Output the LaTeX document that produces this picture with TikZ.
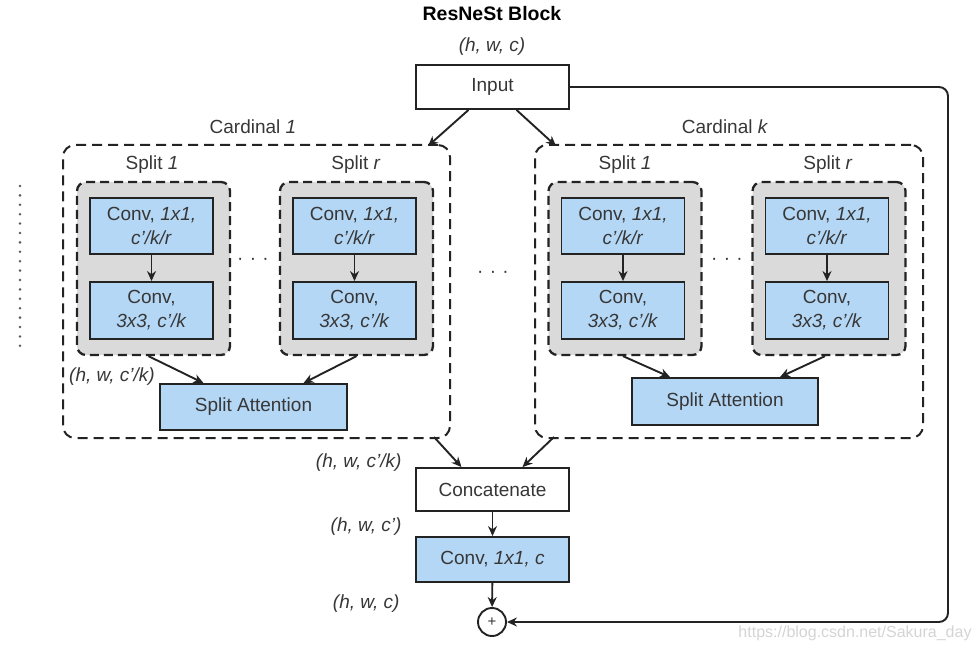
\documentclass[tikz,border=0pt]{standalone}
\usepackage{fontspec}
\setmainfont{Liberation Sans}
\definecolor{labelgray}{RGB}{55, 55, 55}
\definecolor{edgeblack}{RGB}{35, 35, 35}
\definecolor{convblue}{RGB}{180, 215, 245}
\definecolor{splitgray}{RGB}{218, 218, 218}
\definecolor{markgray}{RGB}{212, 212, 212}
\usetikzlibrary{arrows.meta, positioning}

\begin{document}
\begin{tikzpicture}[x=1pt, y=-1pt,
    font=\fontsize{19}{24}\selectfont, text=labelgray,
    plainbox/.style={draw=edgeblack, line width=1.9pt, fill=white, minimum width=153pt, minimum height=44pt, inner sep=0pt},
    convbox/.style={draw=edgeblack, line width=1.9pt, fill=convblue, minimum width=123pt, minimum height=56pt, inner sep=0pt, align=center},
    attbox/.style={convbox, minimum width=187pt, minimum height=46pt},
    splitbox/.style={draw=edgeblack, line width=2.3pt, dash pattern=on 9pt off 5pt, fill=splitgray, rounded corners=9pt, minimum width=153pt, minimum height=173pt},
    cardbox/.style={draw=edgeblack, line width=2pt, dash pattern=on 10pt off 6pt, rounded corners=12pt, minimum width=387pt, minimum height=293pt},
    flow/.style={draw=edgeblack, line width=1.9pt, -{Stealth[length=10pt, width=9pt]}},
    shape note/.style={font=\fontsize{19}{24}\selectfont\itshape},
  ]
  \useasboundingbox (0,0) rectangle (979,652);

  % title and input
  \node[font=\fontsize{19.5}{24}\selectfont\bfseries, text=black] (title) at (492,14) {ResNeSt Block};
  \node[shape note] (hwcin) at (492,47) {(h, w, c)};
  \node[plainbox] (input) at (492.5,87) {Input};

  % cardinal groups
  \node[cardbox] (card1) at (256.5,291.5) {};
  \node[cardbox, minimum width=388pt] (cardk) at (729,291.5) {};
  \node (card1lbl) at (253,127) {Cardinal \textit{1}};
  \node (cardklbl) at (725,127) {Cardinal \textit{k}};

  % splits of cardinal 1
  \node[splitbox] (s11) at (153.5,268.5) {};
  \node[splitbox] (s1r) at (356.5,268.5) {};
  \node (s11lbl) at (152,165) {Split \textit{1}};
  \node (s1rlbl) at (356,165) {Split \textit{r}};
  \node[convbox] (s11a) at (151.5,226) {Conv, \textit{1x1,}\\\textit{c'/k/r}};
  \node[convbox, minimum height=57pt] (s11b) at (151.5,310.5) {Conv,\\\textit{3x3, c'/k}};
  \node[convbox] (s1ra) at (354.5,226) {Conv, \textit{1x1,}\\\textit{c'/k/r}};
  \node[convbox, minimum height=57pt] (s1rb) at (354.5,310.5) {Conv,\\\textit{3x3, c'/k}};
  \node (dots1) at (253,261) {·\,\,·\,\,·};
  \node[attbox] (att1) at (253.5,407) {Split Attention};
  \node[shape note] (hwcsplit) at (112,377) {(h, w, c'/k)};

  % splits of cardinal k
  \node[splitbox] (sk1) at (625,268.5) {};
  \node[splitbox] (skr) at (829,268.5) {};
  \node (sk1lbl) at (625,165) {Split \textit{1}};
  \node (skrlbl) at (828,165) {Split \textit{r}};
  \node[convbox] (sk1a) at (623,226) {Conv, \textit{1x1,}\\\textit{c'/k/r}};
  \node[convbox, minimum height=57pt] (sk1b) at (623,310.5) {Conv,\\\textit{3x3, c'/k}};
  \node[convbox] (skra) at (827,226) {Conv, \textit{1x1,}\\\textit{c'/k/r}};
  \node[convbox, minimum height=57pt] (skrb) at (827,310.5) {Conv,\\\textit{3x3, c'/k}};
  \node (dotsk) at (727,261) {·\,\,·\,\,·};
  \node[attbox, minimum width=186pt, minimum height=47pt] (attk) at (725,401.5) {Split Attention};

  % between the cardinals
  \node (dotsmid) at (493,274) {·\,\,·\,\,·};
  \draw[edgeblack!75, line width=2.8pt, line cap=round, dash pattern=on 0pt off 9.4pt] (20,186) -- (20,355);

  % merge
  \node[plainbox, minimum height=43pt] (concat) at (492.5,489.5) {Concatenate};
  \node[convbox, minimum width=153pt, minimum height=45pt] (convout) at (492.5,559.5) {Conv, \textit{1x1, c}};
  \node[draw=edgeblack, line width=1.9pt, circle, minimum size=28pt, inner sep=0pt, font=\fontsize{15}{15}\selectfont] (plus) at (492,622) {+};
  \node[shape note, anchor=east] (hwccat) at (405,463) {(h, w, c'/k)};
  \node[shape note, anchor=east] (hwcmid) at (405,527) {(h, w, c')};
  \node[shape note, anchor=east] (hwcout) at (403,604) {(h, w, c)};
  \coordinate (skip) at (948,622);

  % connectors
  \draw[flow] ([xshift=-24pt]input.south) -- ([xshift=-23pt, yshift=-2pt]card1.north east);
  \draw[flow] ([xshift=24pt]input.south) -- ([xshift=22pt, yshift=-2pt]cardk.north west);
  \foreach \a/\b in {s11a/s11b, s1ra/s1rb, sk1a/sk1b, skra/skrb}
    \draw[flow] (\a.south) -- (\b.north);
  \draw[flow] ([xshift=-5pt]s11.south) -- ([xshift=-50pt]att1.north);
  \draw[flow] (s1r.south) -- ([xshift=50pt]att1.north);
  \draw[flow] ([xshift=-2pt]sk1.south) -- ([xshift=-55pt]attk.north);
  \draw[flow] ([xshift=-4pt]skr.south) -- ([xshift=55pt]attk.north);
  \draw[flow] ([xshift=-17pt, yshift=2pt]card1.south east) -- ([xshift=-31pt]concat.north);
  \draw[flow] ([xshift=20pt, yshift=2pt]cardk.south west) -- ([xshift=30pt]concat.north);
  \draw[flow] (concat) -- (convout);
  \draw[flow] (convout) -- (plus);
  \draw[flow, rounded corners=9pt] (input.east) -| (skip) -- (plus.east);

  % watermark
  \node[text=markgray, font=\fontsize{16}{16}\selectfont] (mark) at (855,633) {https://blog.csdn.net/Sakura\_day};
\end{tikzpicture}
\end{document}
